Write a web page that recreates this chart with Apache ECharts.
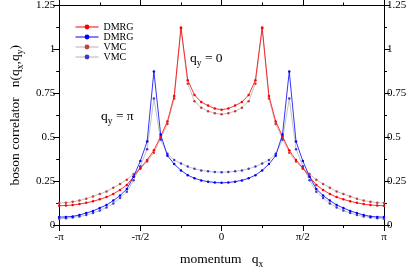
<!DOCTYPE html>
<html>
<head>
<meta charset="utf-8">
<script src="https://cdn.jsdelivr.net/npm/echarts@6/dist/echarts.min.js"></script>
<style>html,body{margin:0;padding:0;background:#fff}#c{width:415px;height:274px}</style>
</head>
<body>
<div id="c"></div>
<script>
// lattice index k: q = k*pi/24, k = -24..24
const kIndex = [-24,-23,-22,-21,-20,-19,-18,-17,-16,-15,-14,-13,-12,-11,-10,-9,-8,-7,-6,-5,-4,-3,-2,-1,0,
  1,2,3,4,5,6,7,8,9,10,11,12,13,14,15,16,17,18,19,20,21,22,23,24];
const dmrgQy0 = [0.110,0.111,0.114,0.119,0.126,0.135,0.146,0.159,0.177,0.200,0.228,0.275,0.325,0.370,0.425,0.505,0.590,0.735,1.125,0.825,0.740,0.700,0.680,0.663,0.657,
  0.663,0.680,0.700,0.740,0.825,1.125,0.735,0.590,0.505,0.425,0.370,0.325,0.275,0.228,0.200,0.177,0.159,0.146,0.135,0.126,0.119,0.114,0.111,0.110];
const dmrgQyPi = [0.045,0.046,0.049,0.057,0.068,0.080,0.097,0.114,0.139,0.168,0.205,0.275,0.365,0.475,0.874,0.515,0.395,0.347,0.311,0.284,0.266,0.254,0.247,0.242,0.240,
  0.242,0.247,0.254,0.266,0.284,0.311,0.347,0.395,0.515,0.874,0.475,0.365,0.275,0.205,0.168,0.139,0.114,0.097,0.080,0.068,0.057,0.049,0.046,0.045];
const vmcQy0 = [0.125,0.127,0.132,0.139,0.150,0.163,0.177,0.191,0.212,0.234,0.258,0.290,0.320,0.362,0.412,0.492,0.575,0.720,1.120,0.805,0.705,0.668,0.648,0.637,0.630,
  0.637,0.648,0.668,0.705,0.805,1.120,0.720,0.575,0.492,0.412,0.362,0.320,0.290,0.258,0.234,0.212,0.191,0.177,0.163,0.150,0.139,0.132,0.127,0.125];
const vmcQyPi = [0.036,0.038,0.043,0.048,0.057,0.068,0.082,0.100,0.123,0.154,0.189,0.255,0.335,0.432,0.720,0.485,0.406,0.370,0.350,0.333,0.320,0.311,0.306,0.302,0.301,
  0.302,0.306,0.311,0.320,0.333,0.350,0.370,0.406,0.485,0.720,0.432,0.335,0.255,0.189,0.154,0.123,0.100,0.082,0.068,0.057,0.048,0.043,0.038,0.036];
const xTickLabels = ['-π','-π/2','0','π/2','π'];
const yTickLabels = ['0','0.25','0.5','0.75','1','1.25'];

const SERIF = 'Liberation Serif';
const toPairs = vals => kIndex.map((k,i) => [k*Math.PI/24, vals[i]]);
const xLabel = v => { const i = Math.round(v/(Math.PI/2)) + 2; return xTickLabels[i] !== undefined ? xTickLabels[i] : ''; };
const yLabel = v => { const i = Math.round(v/0.25); return yTickLabels[i] !== undefined ? yTickLabels[i] : ''; };

const rich = {
  n: {fontFamily: SERIF, fontSize: 13.5, color: '#000', lineHeight: 20, verticalAlign: 'middle'},
  s: {fontFamily: SERIF, fontSize: 9.5, color: '#000', lineHeight: 9, verticalAlign: 'bottom'}
};

const axisCommon = {
  axisLine: {show: true, onZero: false, lineStyle: {color: '#000', width: 1}},
  axisTick: {show: true, inside: false, length: 6, lineStyle: {color: '#000', width: 1}},
  minorTick: {show: true, splitNumber: 2, length: 3, lineStyle: {color: '#000', width: 1}},
  splitLine: {show: false},
  minorSplitLine: {show: false}
};

const chart = echarts.init(document.getElementById('c'), null, {renderer: 'canvas'});
chart.setOption({
  animation: false,
  backgroundColor: '#fff',
  grid: {left: 51, right: 31, top: 5, bottom: 36},
  legend: {
    orient: 'vertical', left: 75, top: 22, itemWidth: 23, itemHeight: 6, itemGap: 0, itemTextGap: 4, padding: 0,
    data: ['DMRG (0)','DMRG (pi)','VMC (0)','VMC (pi)'],
    formatter: name => name.split(' ')[0],
    lineStyle: {width: 1},
    itemStyle: {borderWidth: 0},
    textStyle: {fontFamily: SERIF, fontSize: 10, color: '#000', lineHeight: 10}
  },
  xAxis: [
    Object.assign({}, axisCommon, {
      type: 'value', position: 'bottom', min: -Math.PI, max: Math.PI, interval: Math.PI/2,
      axisLabel: {formatter: xLabel, fontFamily: SERIF, fontSize: 11, color: '#000', margin: 7},
      name: '{n|momentum   q}{s|x}', nameLocation: 'middle', nameGap: 24,
      nameTextStyle: {rich: rich}
    }),
    Object.assign({}, axisCommon, {
      type: 'value', position: 'top', min: -Math.PI, max: Math.PI, interval: Math.PI/2,
      axisLabel: {show: false}
    })
  ],
  yAxis: [
    Object.assign({}, axisCommon, {
      type: 'value', position: 'left', min: 0, max: 1.25, interval: 0.25,
      axisLabel: {formatter: yLabel, fontFamily: SERIF, fontSize: 11, color: '#000', margin: 4},
      name: '{n|boson correlator   n(q}{s|x}{n|,q}{s|y}{n|)}', nameLocation: 'middle', nameGap: 34, nameRotate: 90,
      nameTextStyle: {rich: rich}
    }),
    Object.assign({}, axisCommon, {
      type: 'value', position: 'right', min: 0, max: 1.25, interval: 0.25,
      axisLabel: {formatter: yLabel, fontFamily: SERIF, fontSize: 11, color: '#000', margin: 3}
    })
  ],
  graphic: [
    {type: 'text', left: 190, top: 51, style: {text: '{n|q}{s|y}{n| = 0}', rich: rich}},
    {type: 'text', left: 101, top: 109, style: {text: '{n|q}{s|y}{n| = π}', rich: rich}}
  ],
  series: [
    {name: 'VMC (0)', type: 'line', data: toPairs(vmcQy0), symbol: 'circle', symbolSize: 2.5, z: 2,
     lineStyle: {color: '#b4b4b4', width: 0.8}, itemStyle: {color: '#c83c3c'}},
    {name: 'VMC (pi)', type: 'line', data: toPairs(vmcQyPi), symbol: 'circle', symbolSize: 2.5, z: 2,
     lineStyle: {color: '#b4b4b4', width: 0.8}, itemStyle: {color: '#3c3cc8'}},
    {name: 'DMRG (0)', type: 'line', data: toPairs(dmrgQy0), symbol: 'circle', symbolSize: 2.5, z: 3,
     lineStyle: {color: '#ff0000', width: 0.8}, itemStyle: {color: '#ff0000'}},
    {name: 'DMRG (pi)', type: 'line', data: toPairs(dmrgQyPi), symbol: 'circle', symbolSize: 2.5, z: 3,
     lineStyle: {color: '#0000ff', width: 0.8}, itemStyle: {color: '#0000ff'}}
  ]
});
</script>
</body>
</html>
